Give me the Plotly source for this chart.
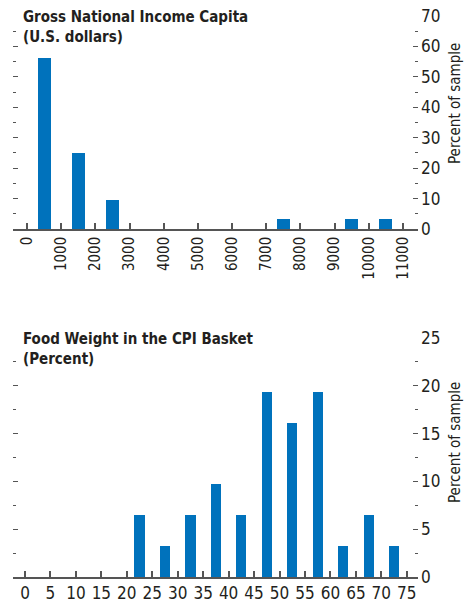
import plotly.graph_objects as go

# ---- Data ----
gni_bins = [500, 1500, 2500, 3500, 4500, 5500, 6500, 7500, 8500, 9500, 10500]
gni_pct = [56.25, 25.0, 9.375, 0, 0, 0, 0, 3.125, 0, 3.125, 3.125]
gni_ticks = list(range(0, 11001, 1000))

food_bins = [2.5, 7.5, 12.5, 17.5, 22.5, 27.5, 32.5, 37.5, 42.5, 47.5, 52.5, 57.5, 62.5, 67.5, 72.5]
food_pct = [0, 0, 0, 0, 6.45, 3.23, 6.45, 9.68, 6.45, 19.35, 16.13, 19.35, 3.23, 6.45, 3.23]
food_ticks = list(range(0, 76, 5))

top_title = "Gross National Income Capita<br>(U.S. dollars)"
bot_title = "Food Weight in the CPI Basket<br>(Percent)"
ytitle = "Percent of sample"

# ---- Style ----
BAR = "#0072BC"
TXT = "#231F20"
AX = "#555555"
FONT = "Liberation Sans Narrow, DejaVu Sans Condensed, Arial Narrow, sans-serif"

W, H = 465, 605
ML, MR, MT, MB = 13, 47, 16, 28
PH = H - MT - MB


def py(p):
    return (H - MB - p) / PH


def px(p):
    return (p - ML) / (W - ML - MR)


fig = go.Figure()
fig.add_trace(go.Bar(x=gni_bins, y=gni_pct, width=380, marker_color=BAR,
                     marker_line_width=0, xaxis="x", yaxis="y"))
fig.add_trace(go.Bar(x=food_bins, y=food_pct, width=2.0, marker_color=BAR,
                     marker_line_width=0, xaxis="x2", yaxis="y2"))

common_x = dict(showline=True, linecolor=AX, linewidth=1.5, ticks="inside",
                ticklen=6, tickcolor=AX, tickwidth=1.5, showgrid=False,
                zeroline=False, automargin=False)
common_y = dict(side="right", ticks="inside", mirror="ticks", ticklen=5,
                tickcolor=AX, tickwidth=1, showline=False, showgrid=False,
                zeroline=False, automargin=False,
                tickfont=dict(family=FONT, size=17, color=TXT),
                ticklabelstandoff=2)

fig.update_layout(
    template="none",
    width=W, height=H,
    margin=dict(l=ML, r=MR, t=MT, b=MB, autoexpand=False),
    paper_bgcolor="white", plot_bgcolor="white",
    showlegend=False, bargap=0,
    xaxis=dict(domain=[0, 1], anchor="y", range=[-410, 11440],
               tickvals=gni_ticks, ticktext=[str(t) for t in gni_ticks],
               tickangle=-90, tickfont=dict(family=FONT, size=15, color=TXT), **common_x),
    yaxis=dict(domain=[py(229), 1], anchor="x", range=[0, 70], tickvals=list(range(0, 71, 10)),
               minor=dict(tickvals=list(range(5, 70, 10)), ticks="inside", ticklen=3,
                          tickcolor=AX, tickwidth=1),
               **common_y),
    xaxis2=dict(domain=[0, 1], anchor="y2", range=[-2.36, 77.2],
                tickvals=food_ticks, tickangle=0,
                tickfont=dict(family=FONT, size=17, color=TXT), **common_x),
    yaxis2=dict(domain=[0, py(338)], anchor="x2", range=[0, 25], tickvals=list(range(0, 26, 5)),
                minor=dict(tickvals=[2.5, 7.5, 12.5, 17.5, 22.5], ticks="inside", ticklen=3,
                           tickcolor=AX, tickwidth=1),
                **common_y),
)

ann_font = dict(family=FONT, size=15, color=TXT)
fig.add_annotation(text="<b>" + top_title.replace("<br>", "</b><br><b>") + "</b>",
                   xref="paper", yref="paper", x=px(21), y=py(6),
                   xanchor="left", yanchor="top", align="left", showarrow=False,
                   font=ann_font)
fig.add_annotation(text="<b>" + bot_title.replace("<br>", "</b><br><b>") + "</b>",
                   xref="paper", yref="paper", x=px(21), y=py(328),
                   xanchor="left", yanchor="top", align="left", showarrow=False,
                   font=ann_font)
for yc in (104, 443):
    fig.add_annotation(text=ytitle, xref="paper", yref="paper", x=px(455), y=py(yc),
                       xanchor="center", yanchor="middle", textangle=-90, showarrow=False,
                       font=dict(family=FONT, size=15, color=TXT))

fig.write_html("out.html", config={"displayModeBar": False},
               post_script="document.body.style.margin='0';")
